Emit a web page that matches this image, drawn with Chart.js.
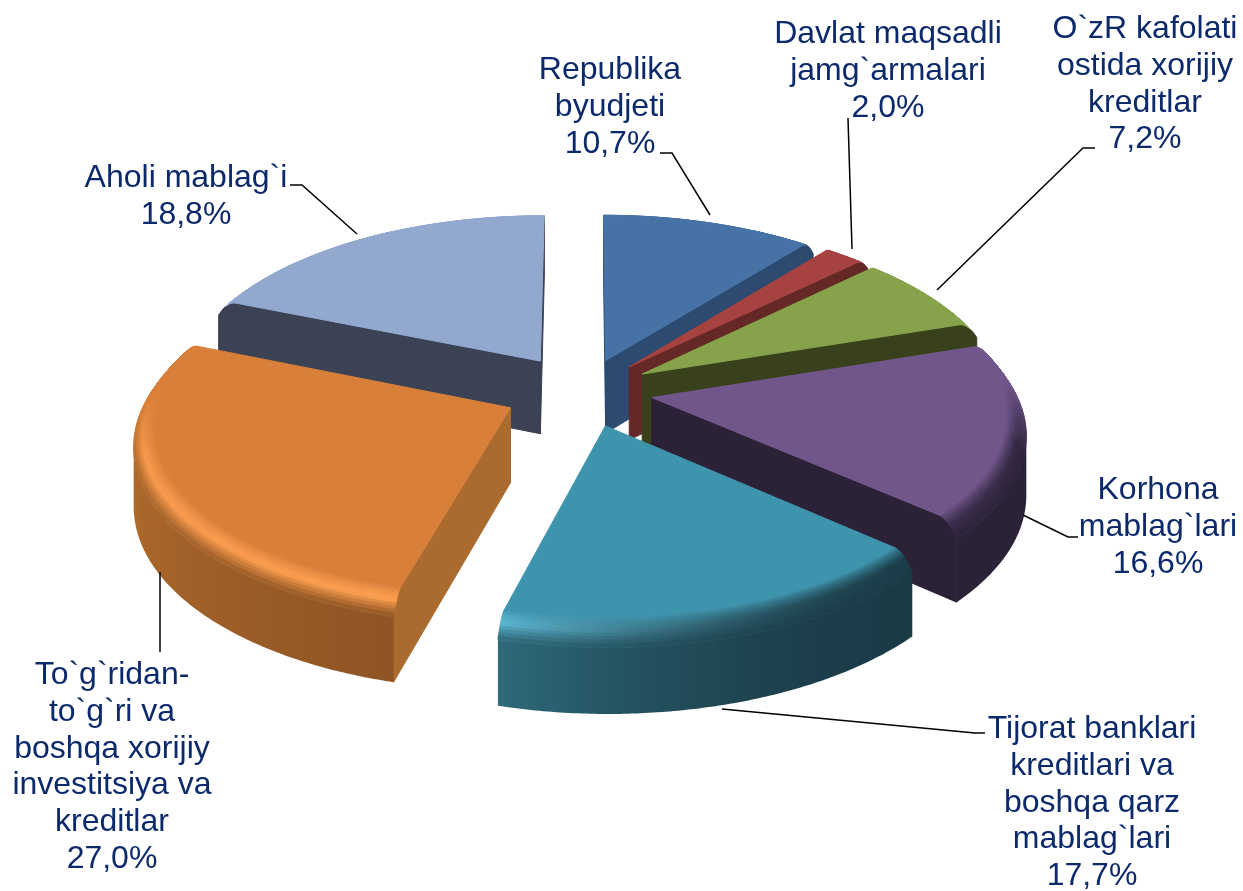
<!DOCTYPE html>
<html>
<head>
<meta charset="utf-8">
<title>Investitsiya manbalari</title>
<script src="https://cdn.jsdelivr.net/npm/chart.js@4/dist/chart.umd.min.js"></script>
<style>
    html, body { margin: 0; padding: 0; background: #fff; }
    canvas { display: block; }
</style>
</head>
<body>
<canvas id="sources_pie" width="1243" height="891"></canvas>
<script>
const categories = [
    ['Republika', 'byudjeti'],
    ['Davlat maqsadli', 'jamg`armalari'],
    ['O`zR kafolati', 'ostida xorijiy', 'kreditlar'],
    ['Korhona', 'mablag`lari'],
    ['Tijorat banklari', 'kreditlari va', 'boshqa qarz', 'mablag`lari'],
    ['To`g`ridan-', 'to`g`ri va', 'boshqa xorijiy', 'investitsiya va', 'kreditlar'],
    ['Aholi mablag`i']
];
const shares = [10.7, 2.0, 7.2, 16.6, 17.7, 27.0, 18.8];
const explode = [70, 70, 70, 70, 76, 80, 78];

const topColors = ['#4672a5', '#a6423f', '#86a34b', '#71568c', '#3f94ad', '#d87f3a', '#92a8cf'];
const edgeColors = ['#2d4a70', '#642826', '#38401c', '#2c2238', '#1a3c48', '#ab6a2e', '#3b4254'];
// outer wall colour at the start and end of each slice
const wallColors = [
    ['#2d4a70', '#2d4a70'], ['#642826', '#642826'], ['#38401c', '#38401c'], ['#2c2238', '#2c2238'],
    ['#1a3a46', '#2e6a7a'], ['#8e5424', '#c0752f'], ['#3b4254', '#3b4254']
];
const rimColors = [
    ['#3f6797', '#3f6797'], ['#8f3836', '#8f3836'], ['#76913f', '#76913f'], ['#2c2238', '#3a2c4c'],
    ['#1c3f4b', '#5fb8d3'], ['#ffa050', '#f5964a'], ['#8ba1c8', '#8ba1c8']
];

// where each label goes: centre x, first baseline
const labelSpots = [[610, 79], [888, 43], [1145, 38], [1158, 499], [1092, 738], [112, 684], [186, 187]];
const leaderLines = [
    [[660, 153], [672, 153], [710, 215]],
    [[848, 118], [852, 249]],
    [[1095, 148], [1083, 148], [937, 290]],
    [[1023, 515], [1068, 537], [1078, 537]],
    [[722, 709], [975, 733], [985, 733]],
    [[160, 572], [160, 652]],
    [[290, 185], [302, 185], [357, 234]]
];

const TILT = 0.47, CAMERA = 3500, DEPTH = 74, BEVEL = 20, BEVEL_DROP = 16;

function hexRgb (hex) {
    return [1, 3, 5].map(i => parseInt(hex.slice(i, i + 2), 16));
}
function mixRgb (a, b, t) {
    const ca = hexRgb(a), cb = hexRgb(b);
    return '#' + ca.map((v, i) => Math.round(v + (cb[i] - v) * t).toString(16).padStart(2, '0')).join('');
}

const pie3d = {
    id: 'pie3d',
    beforeDatasetsDraw (chart) {
        const ctx = chart.ctx;
        const arcs = chart.getDatasetMeta(0).data;
        const order = arcs.map((a, i) => i).sort((p, q) => {
            const m = i => (arcs[i].startAngle + arcs[i].endAngle) / 2;
            return Math.sin(m(p)) - Math.sin(m(q));
        });
        order.forEach(i => drawSlice(ctx, arcs[i], i));
        return false; // the flat arcs are replaced by the tilted ones
    },
    afterDraw (chart) {
        const ctx = chart.ctx;
        ctx.save();
        ctx.strokeStyle = '#000';
        ctx.lineWidth = 1.5;
        leaderLines.forEach(pts => {
            ctx.beginPath();
            pts.forEach((p, k) => k ? ctx.lineTo(p[0], p[1]) : ctx.moveTo(p[0], p[1]));
            ctx.stroke();
        });
        ctx.fillStyle = '#0c2a6b';
        ctx.font = '32px "Liberation Sans"';
        ctx.textAlign = 'center';
        categories.forEach((lines, i) => {
            const pct = shares[i].toFixed(1).replace('.', ',') + '%';
            lines.concat(pct).forEach((line, k) => {
                ctx.fillText(line, labelSpots[i][0], labelSpots[i][1] + k * 36.8);
            });
        });
        ctx.restore();
    }
};

function drawSlice (ctx, arc, i) {
    const { x: cx, y: cy, startAngle: a0, endAngle: a1, outerRadius: R } = arc;
    const mid = (a0 + a1) / 2;
    const off = arc.options.offset;
    const base = arc.options.backgroundColor;
    const ox = off * Math.cos(mid), oy = off * Math.sin(mid);
    const project = (r, a, z) => {
        const X = ox + r * Math.cos(a), Y = oy + r * Math.sin(a);
        const s = CAMERA / (CAMERA - Y);
        return [cx + X * s, cy + (Y * TILT + z) * s];
    };
    const trace = pts => {
        ctx.beginPath();
        pts.forEach((p, k) => k ? ctx.lineTo(p[0], p[1]) : ctx.moveTo(p[0], p[1]));
        ctx.closePath();
    };
    const poly = (pts, fill) => {
        // only faces turned to the viewer
        let area = 0;
        pts.forEach((p, k) => {
            const q = pts[(k + 1) % pts.length];
            area += p[0] * q[1] - q[0] * p[1];
        });
        if (area <= 0) return;
        trace(pts);
        ctx.fillStyle = fill;
        ctx.strokeStyle = fill;
        ctx.lineWidth = 1;
        ctx.fill();
        ctx.stroke();
    };

    const steps = Math.max(6, Math.round((a1 - a0) * 100));
    const angleAt = k => a0 + (a1 - a0) * k / steps;
    const eased = u => (i === 4 ? u * u : u);

    // radial faces with the rounded top corner
    const radial = (a, flip) => {
        const pts = [project(0, a, 0)];
        for (let b = 0; b <= 4; b++) {
            const t = b / 4;
            pts.push(project(R - BEVEL * (1 - t), a, BEVEL_DROP * t * t));
        }
        pts.push(project(R, a, DEPTH), project(0, a, DEPTH));
        poly(flip ? pts.reverse() : pts, edgeColors[i]);
    };
    radial(a0, true);
    radial(a1, false);

    // outer wall, one shape, only where the arc runs right to left (front side)
    const seen = [];
    for (let k = 0; k < steps; k++) {
        if (project(R, angleAt(k + 1), 0)[0] < project(R, angleAt(k), 0)[0]) {
            if (seen[seen.length - 1] !== k) seen.push(k);
            seen.push(k + 1);
        }
    }
    if (seen.length > 1) {
        const upper = seen.map(k => project(R, angleAt(k), BEVEL_DROP));
        const lower = seen.map(k => project(R, angleAt(k), DEPTH)).reverse();
        const xs = upper.map(p => p[0]);
        const left = Math.min(...xs), right = Math.max(...xs);
        const gradient = ctx.createLinearGradient(left, 0, right, 0);
        seen.forEach((k, n) => {
            if (n === 0 || n === seen.length - 1 || n % 8 === 0) {
                const u = eased(k / steps);
                gradient.addColorStop((xs[n] - left) / (right - left), mixRgb(wallColors[i][0], wallColors[i][1], u));
            }
        });
        trace(upper.concat(lower));
        ctx.fillStyle = gradient;
        ctx.fill();
    }

    // flat top
    const top = [project(0, a0, 0)];
    for (let k = 0; k <= steps; k++) top.push(project(R - BEVEL, angleAt(k), 0));
    trace(top);
    ctx.fillStyle = base;
    ctx.strokeStyle = base;
    ctx.lineWidth = 1;
    ctx.fill();
    ctx.stroke();

    // rounded rim between top and wall, fades out on the far side of the pie
    const bands = 12;
    for (let k = 0; k < steps; k++) {
        const u = eased((k + 0.5) / steps);
        const front = Math.min(1, Math.max(0, (Math.sin(angleAt(k)) + 0.12) / 0.35));
        const rim = mixRgb(rimColors[i][0], rimColors[i][1], u);
        const wall = mixRgb(wallColors[i][0], wallColors[i][1], u);
        for (let b = 0; b < bands; b++) {
            const t0 = b / bands, t1 = (b + 1) / bands;
            const tc = (t0 + t1) / 2;
            const lit = tc < 0.6 ? mixRgb(base, rim, tc / 0.6) : mixRgb(rim, wall, (tc - 0.6) / 0.4);
            const r0 = R - BEVEL * (1 - t0), r1 = R - BEVEL * (1 - t1);
            const z0 = BEVEL_DROP * t0 * t0, z1 = BEVEL_DROP * t1 * t1;
            poly([
                project(r0, angleAt(k), z0), project(r1, angleAt(k), z1),
                project(r1, angleAt(k + 1), z1), project(r0, angleAt(k + 1), z0)
            ], mixRgb(base, lit, front));
        }
    }
}

new Chart(document.getElementById('sources_pie').getContext('2d'), {
    type: 'pie',
    data: {
        labels: categories.map(c => c.join(' ')),
        datasets: [{
            data: shares,
            backgroundColor: topColors,
            borderWidth: 0,
            offset: explode
        }]
    },
    options: {
        responsive: false,
        animation: false,
        radius: 370,
        layout: { padding: { right: 77, bottom: 109 } },
        plugins: {
            legend: { display: false },
            tooltip: { enabled: false }
        }
    },
    plugins: [pie3d]
});
</script>
</body>
</html>
